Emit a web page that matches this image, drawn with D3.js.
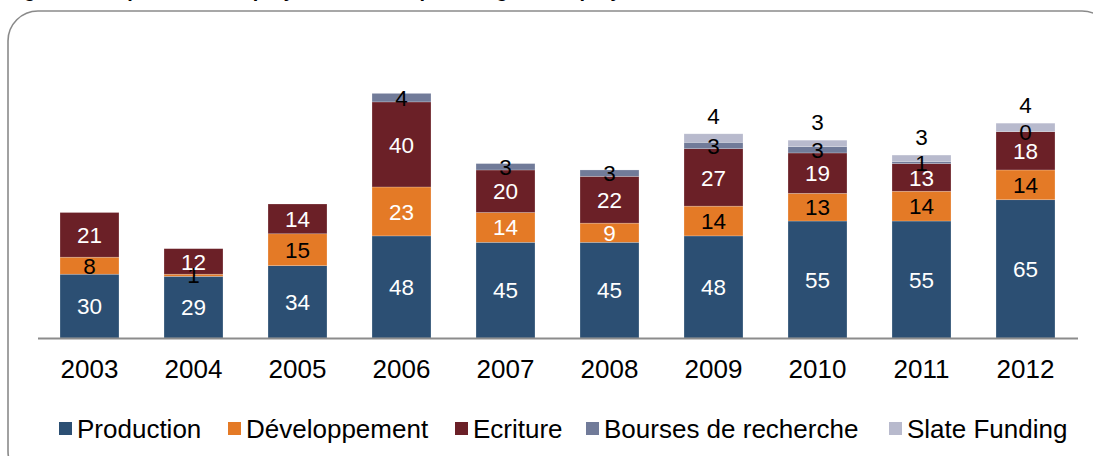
<!DOCTYPE html>
<html><head><meta charset="utf-8">
<script src="https://cdn.jsdelivr.net/npm/d3@7"></script>
<style>html,body{margin:0;padding:0;background:#fff;overflow:hidden}svg{display:block;font-family:"Liberation Sans",Arial,sans-serif}</style>
</head><body><svg id="c" width="1093" height="456"></svg>
<script>
const years = ["2003","2004","2005","2006","2007","2008","2009","2010","2011","2012"];
const seriesNames = ["Production","Développement","Ecriture","Bourses de recherche","Slate Funding"];
const production    = [30,29,34,48,45,45,48,55,55,65];
const developpement = [8,1,15,23,14,9,14,13,14,14];
const ecriture      = [21,12,14,40,20,22,27,19,13,18];
const bourses       = [null,null,null,4,3,3,3,3,1,0];
const slate         = [null,null,null,null,null,null,4,3,3,4];
const colors = ["#2c4f73","#e47a26","#6b2027","#717b99","#b8bacd"];
const devLabelWhite = [false,false,false,true,true,true,false,false,false,false];

const svg = d3.select("#c");

// title (mostly cut off at top of image, only descenders visible)
svg.append("text").attr("x",6).attr("y",-3.5).attr("font-weight","bold").attr("font-size",20)
  .attr("fill","#000").text("Figure 5 : Répartition des projets soutenus par catégorie de projets");

// frame
svg.append("rect").attr("x",8).attr("y",11).attr("width",1104).attr("height",470)
  .attr("rx",30).attr("ry",30).attr("fill","none").attr("stroke","#8a8a8a").attr("stroke-width",1.6);

const table = years.map((y,i)=>({year:y, s0:production[i], s1:developpement[i], s2:ecriture[i], s3:bourses[i]||0, s4:slate[i]||0}));
const keys = ["s0","s1","s2","s3","s4"];
const raw = [production, developpement, ecriture, bourses, slate];
const stack = d3.stack().keys(keys)(table);

const x = d3.scaleBand().domain(years).range([37.5,1077.5]).paddingInner(0.433).paddingOuter(0.2165);
const y = d3.scaleLinear().domain([0,120]).range([338, 338-120*2.127]);

const g = svg.append("g");
stack.forEach((layer,k)=>{
  g.selectAll(null).data(layer).enter().append("rect")
    .attr("x",d=>x(d.data.year)).attr("width",x.bandwidth())
    .attr("y",d=>y(d[1])).attr("height",d=>y(d[0])-y(d[1]))
    .attr("fill",colors[k]).attr("stroke","rgba(255,255,255,0.35)").attr("stroke-width",0.6);
});

// axis
const axis = d3.axisBottom(x).tickSize(0).tickPadding(20);
const ax = svg.append("g").attr("transform","translate(0,338)").call(axis);
ax.select(".domain").attr("stroke","#8c8c8c").attr("stroke-width",2.2);
ax.selectAll("text").attr("font-size",26).attr("fill","#000").attr("font-family","'Liberation Sans',Arial,sans-serif")
  .attr("dy","0.75em");

// labels
const lab = svg.append("g").attr("font-size",22.5).attr("text-anchor","middle");
stack.forEach((layer,k)=>{
  layer.forEach((d,i)=>{
    const v = raw[k][i];
    if (v===null || v===undefined) return;
    let cy;
    if (k===4) cy = y(d[1]) - 18;
    else cy = (y(d[0])+y(d[1]))/2;
    let fill = "#000";
    if (k===0 || k===2) fill = "#fff";
    if (k===1 && devLabelWhite[i]) fill = "#fff";
    lab.append("text").attr("x",x(d.data.year)+x.bandwidth()/2).attr("y",cy).attr("dy","0.36em")
      .attr("fill",fill).text(v);
  });
});

// legend
const legX = [59,228,455,586,889];
const lg = svg.append("g");
seriesNames.forEach((n,k)=>{
  lg.append("rect").attr("x",legX[k]).attr("y",422).attr("width",13).attr("height",13).attr("fill",colors[k]);
  lg.append("text").attr("x",legX[k]+18).attr("y",428.5).attr("dy","0.36em").attr("font-size",26).attr("fill","#000").text(n);
});
</script></body></html>
